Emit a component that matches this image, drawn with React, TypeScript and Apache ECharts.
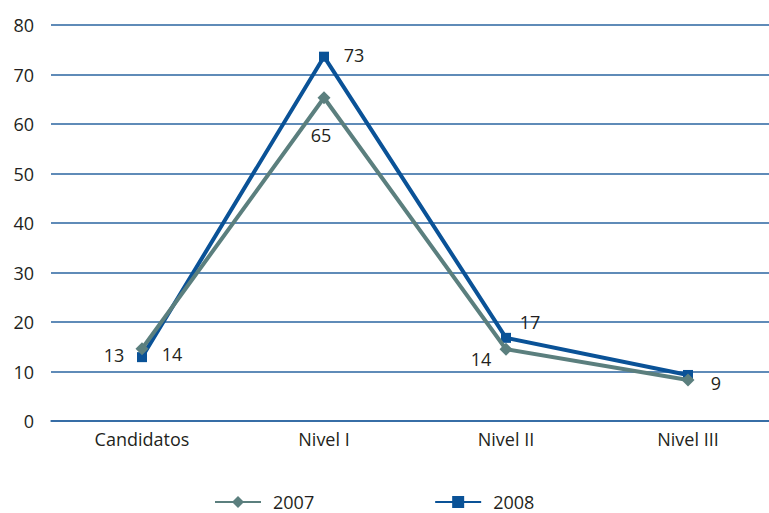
import React, { useEffect, useRef } from "react";
import * as echarts from "echarts";

const categories = ["Candidatos", "Nivel I", "Nivel II", "Nivel III"];
const series2007 = [14.6, 65.3, 14.5, 8.3];
const series2008 = [12.9, 73.6, 16.8, 9.3];
const labels2007 = ["14", "65", "14", "9"];
const labels2008 = ["13", "73", "17", ""];
const seriesNames = ["2007", "2008"];

const FONT = "'Open Sans', 'Noto Sans', sans-serif";
const offs2007 = [[30, 5], [-3, 37], [-25, 10], [28, 3]];
const offs2008 = [[-28, -2], [30, -2], [24, -16], [0, 0]];

export default function App() {
  const ref = useRef<HTMLDivElement>(null);
  useEffect(() => {
    document.body.style.margin = "0";
    const chart = echarts.init(ref.current!, null, { renderer: "svg" });
    const mk = (vals: number[], labs: string[], offs: number[][]) =>
      vals.map((v, i) => ({
        value: v,
        label: {
          show: labs[i] !== "",
          position: "inside" as const,
          offset: offs[i],
          formatter: () => labs[i],
          color: "#231f20",
          fontSize: 18,
          fontFamily: FONT,
        },
      }));
    chart.setOption({
      animation: false,
      backgroundColor: "#ffffff",
      grid: { left: 51, right: -10, top: 25, bottom: 92, outerBoundsMode: "none", containLabel: false },
      legend: {
        top: 492,
        left: 214,
        padding: 0,
        itemWidth: 46,
        itemHeight: 15,
        itemGap: 120,
        textStyle: { fontSize: 18, lineHeight: 20, color: "#231f20", fontFamily: FONT, padding: [0, 0, 0, 7] },
        data: seriesNames,
      },
      xAxis: {
        type: "category",
        data: categories,
        boundaryGap: true,
        axisLine: { show: true, lineStyle: { color: "#2a64a0", width: 1.5 } },
        axisTick: { show: false },
        axisLabel: { color: "#231f20", fontSize: 18, fontFamily: FONT, margin: 9 },
      },
      yAxis: {
        type: "value",
        min: 0,
        max: 80,
        interval: 10,
        axisLine: { show: false },
        axisTick: { show: false },
        axisLabel: { color: "#231f20", fontSize: 18, fontFamily: FONT, margin: 17 },
        splitLine: { lineStyle: { color: "#2a64a0", width: 1.5 } },
      },
      series: [
        {
          name: seriesNames[0],
          type: "line",
          data: mk(series2007, labels2007, offs2007),
          symbol: "diamond",
          symbolSize: 13,
          lineStyle: { color: "#5b7f7e", width: 4 },
          itemStyle: { color: "#5b7f7e" },
          z: 3,
        },
        {
          name: seriesNames[1],
          type: "line",
          data: mk(series2008, labels2008, offs2008),
          symbol: "rect",
          symbolSize: 10,
          lineStyle: { color: "#0a5297", width: 4 },
          itemStyle: { color: "#0a5297" },
          z: 2,
        },
      ],
    });
    return () => chart.dispose();
  }, []);
  return <div ref={ref} style={{ width: 769, height: 513 }} />;
}
